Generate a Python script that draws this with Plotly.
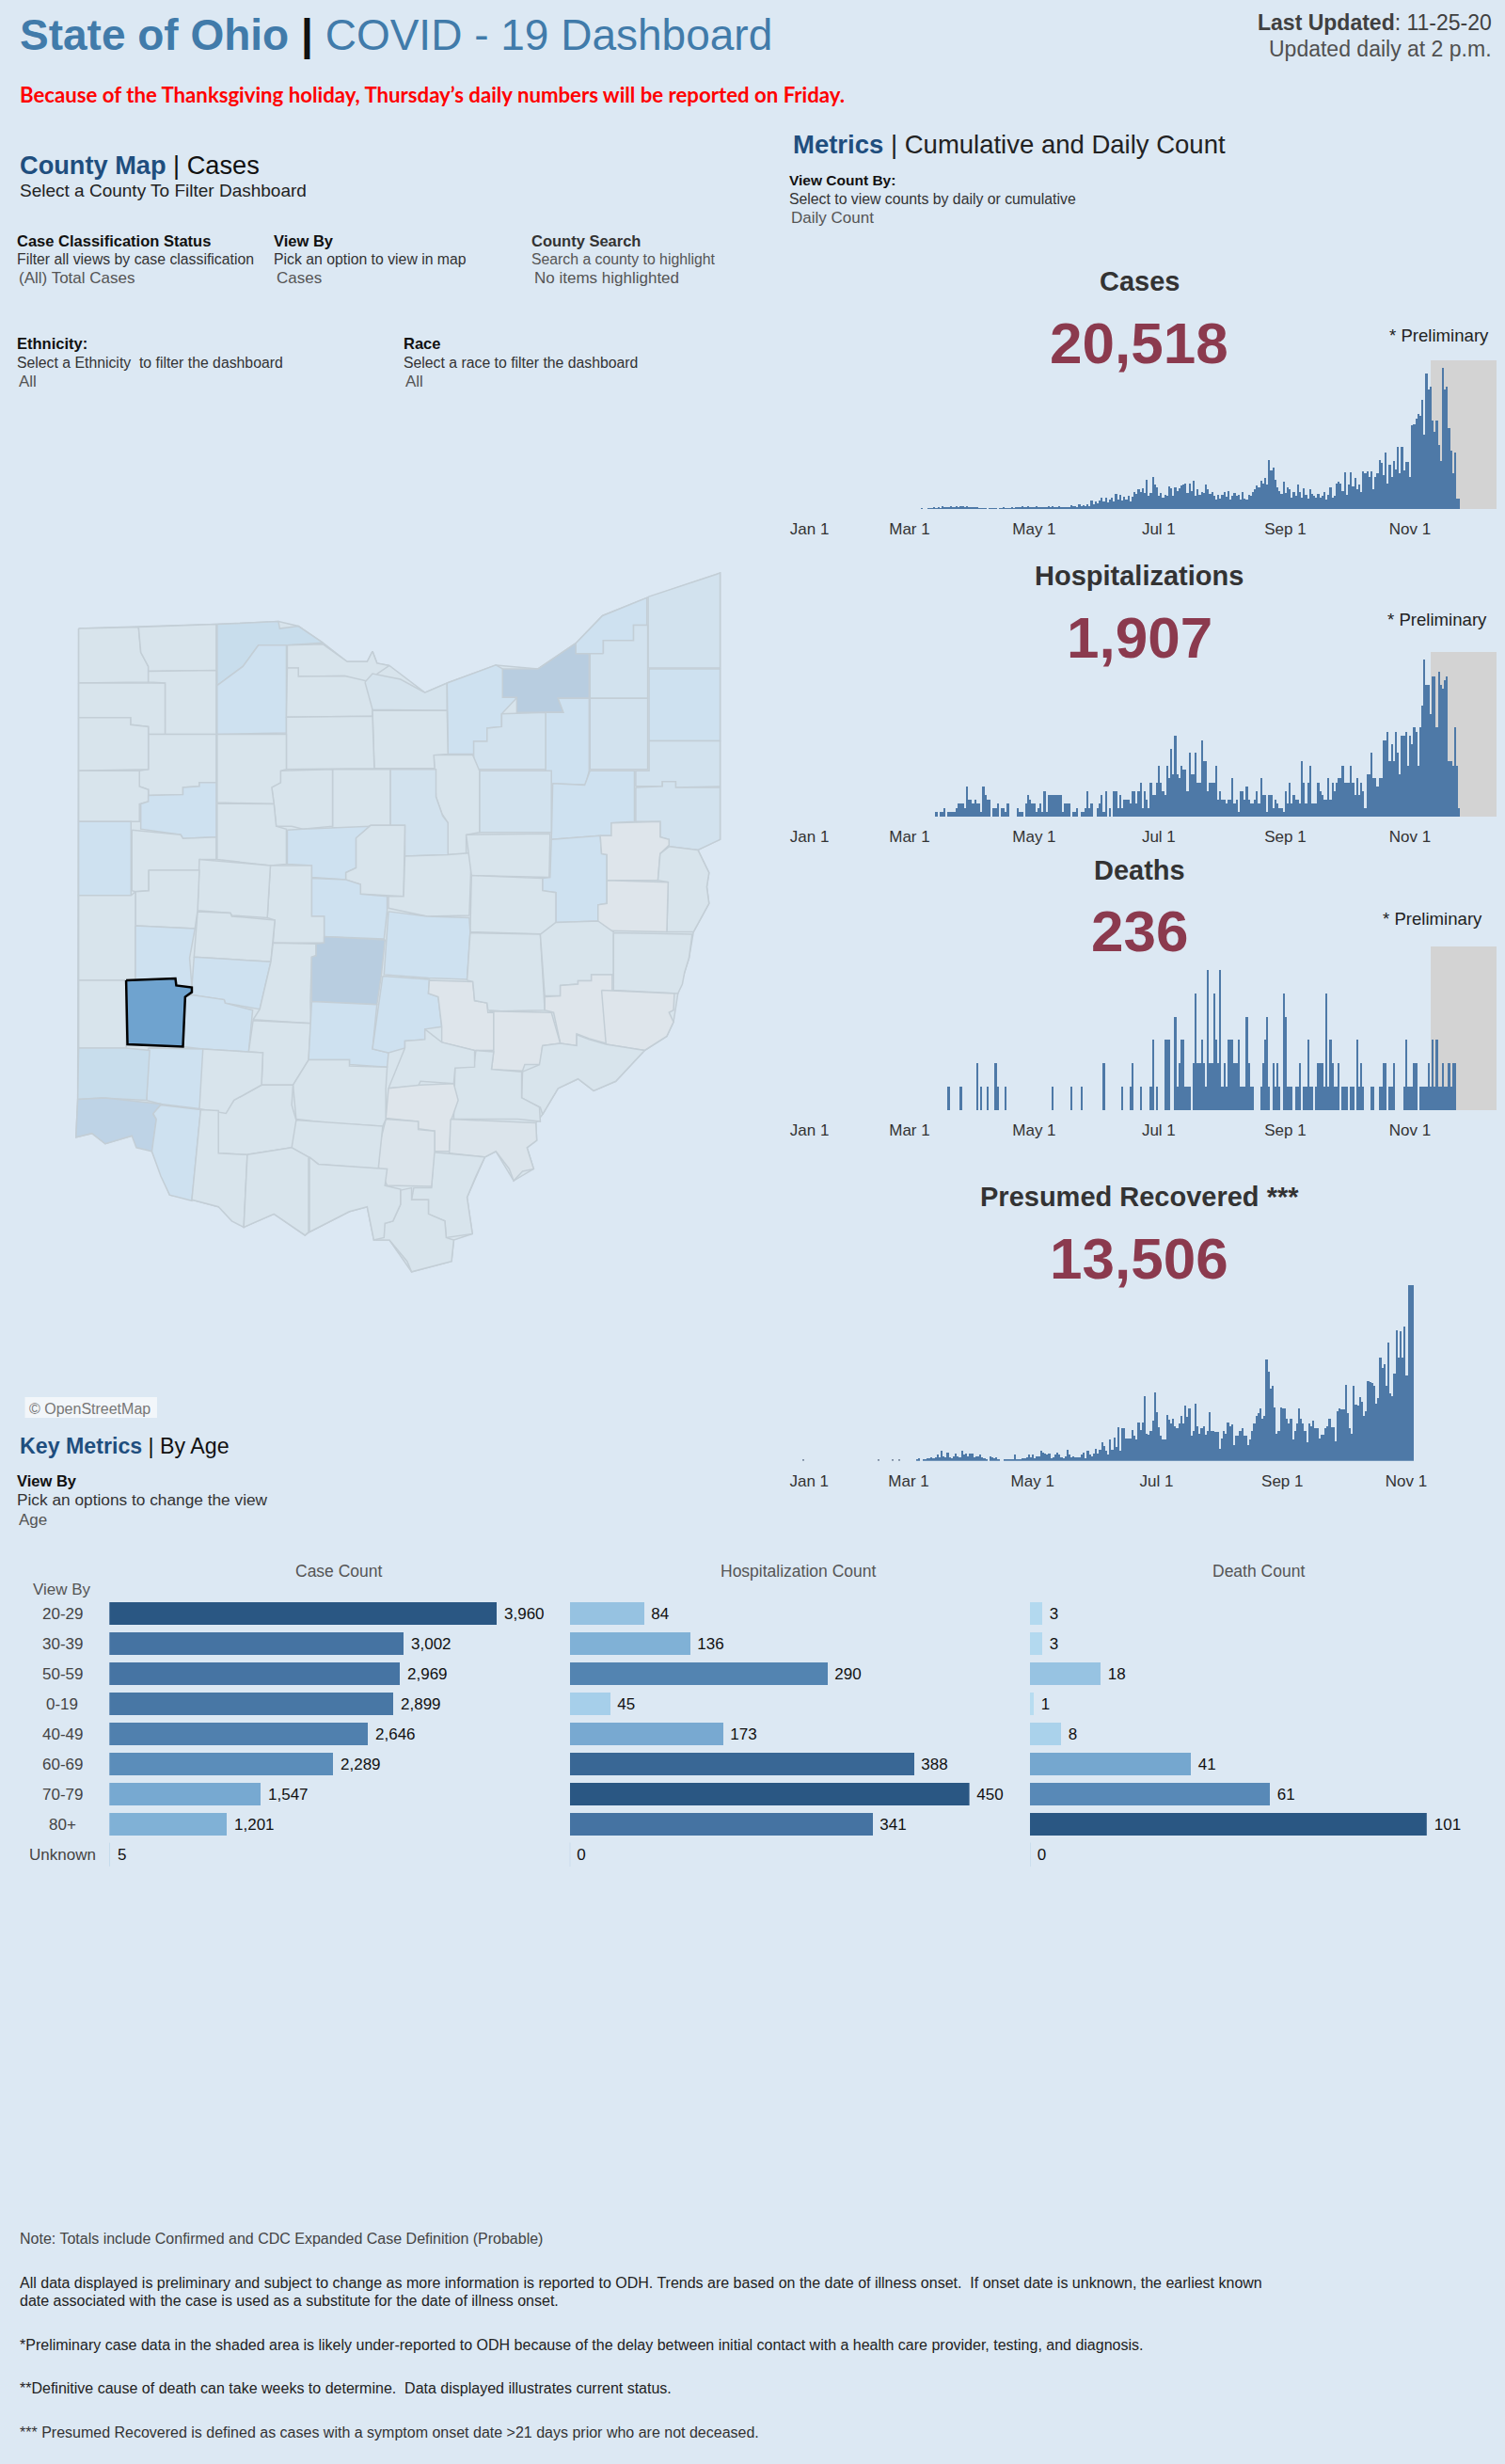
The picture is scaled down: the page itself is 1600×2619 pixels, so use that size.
import pandas as pd
import plotly.graph_objects as go

W, H = 1600, 2619
BG = "#DCE8F3"
FONT = "Liberation Sans, Arial, sans-serif"

# daily series (first date + one value per day)
cases_start = "2020-03-07"
cases_daily = [
    1,0,0,1,1,1,2,1,2,1, 4,3,3,3,4,3,3,4,3,4, 5,3,5,3,2,2,3,2,1,1, 1,1,0,1,1,1,1,0,1,1,
    2,1,1,1,2,1,3,3,2,4, 3,2,5,3,3,2,5,2,3,2, 3,3,4,3,5,3,2,5,2,3, 2,3,2,6,4,4,3,7,5,6,
    4,8,5,13,7,12,9,13,18,11, 17,10,14,18,12,24,14,22,13,19, 15,21,12,19,27,24,30,26,32,25,
    46,21,25,50,38,33,20,25,17,22, 20,35,32,20,33,28,32,36,38,40, 25,40,28,44,20,30,22,27,25,38,
    30,24,27,20,14,22,16,22,26,19, 28,15,20,25,20,22,14,26,16,14, 22,20,27,30,37,34,44,40,48,38,
    76,60,64,45,34,28,23,42,25,33, 30,18,26,20,38,26,17,32,22,16, 31,24,20,18,23,18,20,26,15,22,
    34,18,20,40,42,40,28,57,22,38, 57,35,48,30,38,26,58,56,58,50, 58,30,50,55,76,72,52,87,40,68,
    50,75,62,97,55,96,60,73,73,50, 130,131,140,147,145,169,115,210,185,190,
    137,120,137,100,75,220,185,190,126,90, 56,88,16,16,
]

hosp_start = "2020-03-14"
hosp_daily = [
    1,0,1,1,2,0,1,1,1,1, 2,3,3,3,2,7,4,4,3,4, 3,3,1,7,5,4,4,0,2,2, 3,0,2,2,1,3,0,0,0,0,
    2,1,1,0,3,5,4,3,3,1, 2,3,1,6,1,5,5,5,5,5, 5,5,1,3,3,3,0,1,1,2, 0,1,1,2,6,2,3,0,0,2,
    3,5,1,6,0,2,0,6,6,2, 5,2,4,4,4,3,6,6,3,6, 8,2,6,4,2,8,5,5,8,12, 8,6,5,12,9,16,10,19,10,9,
    12,11,11,6,15,10,10,15,8,8, 18,13,13,6,8,8,8,12,4,6, 4,4,3,4,4,9,3,4,1,6, 6,4,7,4,3,3,4,6,3,9,
    5,5,1,5,5,2,4,3,2,2, 1,6,3,8,3,5,4,4,3,13, 8,3,8,12,3,3,3,8,6,5, 4,4,9,4,8,6,8,9,9,12,
    8,8,8,12,8,5,9,5,8,6, 2,10,10,15,9,9,7,9,9,18, 18,20,13,17,13,20,15,10,19,19,
    20,12,19,17,21,20,12,21,26,37, 31,31,24,33,33,21,34,31,30,32, 33,13,13,12,21,12,2,
]

deaths_start = "2020-03-20"
deaths_daily = [
    1,0,0,0,0,0,1,0,0,0, 0,0,0,0,2,0,1,0,0,1, 0,0,0,2,1,0,0,0,1,0, 0,0,0,0,0,0,0,0,0,0,
    0,0,0,0,0,0,0,0,0,0, 0,1,0,0,0,0,0,0,0,0, 1,0,0,0,0,1,0,0,0,0, 0,0,0,0,0,0,2,0,0,0,
    0,0,0,0,0,1,0,0,0,1, 2,0,0,0,1,0,0,0,0,1, 3,0,1,0,0,0,3,3,3,0, 0,4,1,2,3,3,1,1,1,0,
    2,5,2,2,3,2,1,6,2,2, 5,3,2,6,1,2,1,3,3,3, 2,2,3,1,1,1,4,2,1,1, 0,0,0,1,2,3,4,1,0,2,
    1,2,1,0,5,4,1,1,1,0, 1,1,2,0,1,1,3,1,1,0, 1,2,2,2,1,5,1,3,2,1, 1,2,0,1,1,1,0,1,1,0,
    3,1,2,1,0,0,0,1,1,0, 0,1,1,2,2,0,1,1,2,0, 0,0,0,1,3,1,1,1,2,2, 0,1,1,1,1,2,1,3,1,3,
    1,1,2,1,1,2,1,2,2,
]

recovered_early_dates = ["2020-01-09", "2020-02-15", "2020-02-22", "2020-02-25"]
recovered_early = [1, 1, 1, 1]
recovered_start = "2020-03-05"
recovered_daily = [
    1,2,0,1,1,2,2,3,2,3, 5,3,8,4,3,7,3,2,4,6, 4,3,8,5,6,4,6,6,3,4, 4,5,3,2,1,0,4,3,2,3,
    1,0,0,1,1,1,1,1,5,1, 1,1,2,2,3,5,3,5,2,4, 4,8,7,6,5,6,2,3,5,7, 5,3,2,4,9,5,3,4,3,3,
    3,5,7,2,8,5,4,6,10,6, 9,15,12,8,5,17,9,19,11,27, 8,26,26,18,18,18,25,20,17,31,
    25,31,52,22,21,24,32,55,39,27, 20,17,17,37,33,30,34,28,26,30, 36,30,44,35,42,20,24,46,28,22,
    26,28,21,24,39,24,24,23,23,10, 18,24,22,31,28,29,13,20,20,24, 26,20,20,13,17,24,30,36,38,42,
    34,36,81,71,58,60,43,22,24,43, 42,42,34,30,34,17,24,30,42,34, 30,24,15,30,28,32,26,26,18,21,
    21,26,28,34,27,27,16,40,42,41, 41,61,38,26,22,60,45,44,51,47, 36,40,64,63,62,60,46,50,82,74,
    77,60,94,54,52,70,104,82,103,82, 107,68,140,140,140,
]

month_ticks = ["2020-01-12", "2020-03-01", "2020-05-01", "2020-07-01", "2020-09-01", "2020-11-01"]
month_labels = ["Jan 1", "Mar 1", "May 1", "Jul 1", "Sep 1", "Nov 1"]

# age table
age_groups = ["20-29", "30-39", "50-59", "0-19", "40-49", "60-69", "70-79", "80+", "Unknown"]
age_cases = [3960, 3002, 2969, 2899, 2646, 2289, 1547, 1201, 5]
age_hosp = [84, 136, 290, 45, 173, 388, 450, 341, 0]
age_deaths = [3, 3, 18, 1, 8, 41, 61, 101, 0]

# outer state line and county outlines, in map units (0-1568 both ways, y down)
state_outline = [(50,155),(360,146),(500,140),(545,150),(600,185),(655,225),(700,225),(712,203),(722,228),(750,233),
                 (830,290),(880,270),(990,232),(1085,240),(1170,186),(1230,128),(1330,90),(1495,38),(1495,600),
                 (1445,622),(1470,670),(1465,700),(1470,735),(1435,795),(1425,850),(1400,925),(1390,985),(1375,1015),
                 (1325,1045),(1260,1110),(1210,1130),(1175,1105),(1130,1125),(1095,1180),(1080,1198),(1082,1235),
                 (1060,1250),(1075,1295),(1030,1320),(990,1258),(965,1270),(925,1355),(937,1432),(895,1445),(890,1490),
                 (800,1512),(750,1445),(715,1445),(700,1375),(660,1385),(570,1428),(560,1435),(490,1390),(422,1418),
                 (365,1375),(305,1360),(255,1350),(215,1258),(170,1225),(110,1242),(80,1220),(44,1228),(48,1148)]

county_outlines = {
    "Williams": [(50,155),(185,152),(190,205),(207,235),(207,268),(50,270)],
    "Fulton": [(185,152),(360,146),(360,243),(207,245),(207,235),(190,205)],
    "Lucas": [(362,146),(500,140),(503,155),(545,150),(600,185),(520,190),(455,190),(420,235),(362,275)],
    "Defiance": [(50,270),(245,270),(245,378),(207,378),(207,362),(167,358),(167,343),(50,343)],
    "Henry": [(207,245),(360,243),(360,378),(245,378),(245,270),(207,268)],
    "Wood": [(362,275),(420,235),(455,190),(518,190),(518,375),(362,378)],
    "Ottawa": [(520,190),(600,188),(655,225),(700,225),(712,203),(722,228),(750,233),(695,268),(650,255),(545,256),(545,238),(520,238)],
    "Sandusky": [(520,238),(545,238),(545,256),(650,255),(710,268),(712,340),(518,342)],
    "Erie": [(695,268),(712,250),(775,262),(830,290),(880,270),(880,328),(712,326)],
    "Lorain": [(880,270),(990,232),(1005,240),(1035,303),(1003,335),(1003,362),(970,365),(970,393),(940,393),(940,420),(882,420)],
    "Cuyahoga": [(1005,240),(1085,240),(1170,186),(1200,210),(1200,302),(1130,302),(1142,332),(1037,332),(1037,300),(1005,300)],
    "Lake": [(1170,186),(1230,128),(1330,90),(1330,148),(1300,148),(1300,180),(1232,180),(1232,208),(1170,208)],
    "Ashtabula": [(1333,88),(1495,38),(1495,238),(1333,238)],
    "Geauga": [(1232,208),(1232,180),(1300,180),(1300,148),(1332,148),(1332,302),(1202,302),(1202,208)],
    "Trumbull": [(1335,240),(1495,240),(1495,392),(1335,392)],
    "Portage": [(1202,302),(1332,302),(1332,452),(1202,452)],
    "Summit": [(1102,332),(1142,332),(1130,302),(1200,302),(1200,455),(1192,485),(1102,482)],
    "Medina": [(940,420),(940,393),(970,393),(970,365),(1003,362),(1003,335),(1102,332),(1102,452),(940,452)],
    "Mahoning": [(1335,392),(1495,392),(1495,488),(1395,490),(1395,478),(1365,478),(1365,488),(1305,488),(1305,455),(1335,455)],
    "Stark": [(1118,482),(1190,485),(1202,455),(1302,455),(1302,562),(1250,565),(1250,592),(1225,592),(1115,600)],
    "Columbiana": [(1305,490),(1365,488),(1365,478),(1395,478),(1395,490),(1495,490),(1495,600),(1445,622),(1380,615),(1380,600),(1360,595),(1360,562),(1305,562)],
    "Wayne": [(953,455),(1115,455),(1115,585),(953,585)],
    "Ashland": [(850,422),(938,422),(953,455),(953,585),(923,590),(923,630),(882,632),(882,565),(868,545),(855,510)],
    "Huron": [(712,328),(880,328),(882,420),(850,422),(852,450),(716,450)],
    "Seneca": [(518,342),(712,340),(716,450),(505,452),(518,450)],
    "Richland": [(752,452),(855,452),(855,510),(870,550),(882,565),(882,632),(785,635),(785,570),(752,570)],
    "Crawford": [(622,452),(752,452),(752,570),(708,570),(700,575),(622,575)],
    "Wyandot": [(505,455),(622,452),(622,572),(555,578),(530,572),(495,572),(490,525),(485,490),(505,480)],
    "Hancock": [(362,378),(518,378),(518,452),(505,455),(505,480),(485,490),(490,525),(362,522)],
    "Putnam": [(207,378),(360,378),(360,480),(322,480),(322,488),(285,490),(285,505),(207,507),(207,495),(187,488),(187,455),(207,452)],
    "Paulding": [(50,343),(167,343),(167,358),(207,362),(207,452),(50,455)],
    "Van Wert": [(50,455),(187,455),(187,488),(207,495),(207,520),(187,525),(187,562),(50,562)],
    "Allen": [(190,525),(207,520),(207,507),(285,505),(285,490),(322,488),(322,480),(360,480),(360,595),(285,598),(280,590),(190,578)],
    "Mercer": [(50,562),(168,562),(168,718),(50,718)],
    "Auglaize": [(170,580),(280,590),(285,598),(360,595),(360,642),(322,642),(322,665),(208,665),(208,708),(178,710),(170,708)],
    "Hardin": [(362,524),(490,525),(495,572),(518,578),(518,652),(482,655),(362,642)],
    "Marion": [(520,580),(555,578),(708,572),(675,597),(675,660),(652,670),(652,685),(575,680),(575,655),(520,652)],
    "Morrow": [(708,570),(785,570),(782,720),(685,715),(685,695),(652,685),(652,670),(675,660),(675,597)],
    "Knox": [(785,635),(882,632),(935,628),(930,760),(835,762),(748,745),(748,720),(782,720)],
    "Holmes": [(923,590),(1112,588),(1110,680),(935,676)],
    "Tuscarawas": [(1115,600),(1225,592),(1228,630),(1240,632),(1240,735),(1220,738),(1220,772),(1125,775),(1125,712),(1095,708),(1095,682),(1112,680)],
    "Carroll": [(1225,592),(1250,592),(1250,565),(1360,562),(1360,595),(1380,600),(1380,612),(1360,630),(1355,686),(1240,686),(1240,632),(1228,630)],
    "Jefferson": [(1380,615),(1445,622),(1470,670),(1465,700),(1470,735),(1435,795),(1375,795),(1378,690),(1355,686),(1360,630)],
    "Harrison": [(1240,686),(1378,690),(1375,795),(1220,792),(1220,738),(1240,735)],
    "Coshocton": [(935,676),(1095,682),(1095,708),(1125,712),(1125,775),(1105,800),(932,795)],
    "Licking": [(748,752),(835,762),(930,765),(932,795),(925,895),(838,892),(738,885)],
    "Delaware": [(575,682),(652,685),(685,695),(685,715),(745,720),(745,750),(738,810),(603,805),(603,762),(575,762)],
    "Union": [(482,655),(575,655),(575,762),(603,762),(603,818),(488,818),(492,770),(475,765)],
    "Logan": [(322,642),(482,655),(475,765),(395,760),(392,755),(318,750)],
    "Shelby": [(208,665),(322,665),(318,750),(312,788),(178,782),(178,710),(208,708)],
    "Darke": [(50,718),(168,718),(178,710),(178,895),(157,897),(50,897)],
    "Miami": [(178,782),(312,788),(300,850),(305,910),(270,908),(268,893),(178,895)],
    "Champaign": [(318,752),(392,755),(395,762),(492,770),(487,818),(483,858),(310,848)],
    "Clark": [(310,848),(483,858),(458,958),(380,945),(378,938),(305,928),(305,912)],
    "Madison": [(488,818),(585,820),(585,845),(575,848),(572,942),(573,988),(443,980),(458,958),(483,858)],
    "Franklin": [(603,805),(740,812),(732,885),(722,948),(575,942),(575,848),(585,845),(585,820),(603,818)],
    "Preble": [(50,897),(157,897),(157,1040),(50,1040)],
    "Greene": [(290,932),(305,928),(378,938),(380,945),(442,960),(433,1048),(330,1042),(285,1037)],
    "Fayette": [(443,982),(573,988),(568,1065),(533,1118),(462,1118),(465,1050),(433,1048)],
    "Pickaway": [(575,942),(722,948),(712,1042),(748,1050),(745,1080),(660,1075),(660,1065),(568,1065)],
    "Fairfield": [(735,888),(840,895),(838,925),(860,932),(868,995),(830,1000),(830,1022),(785,1025),(785,1040),(748,1050),(712,1042)],
    "Perry": [(840,897),(938,900),(942,940),(970,945),(972,965),(985,965),(985,1045),(942,1045),(868,1028),(868,995),(860,932),(838,925)],
    "Muskingum": [(925,897),(932,797),(1090,800),(1100,960),(1002,962),(972,960),(970,945),(942,940),(938,900)],
    "Guernsey": [(1125,775),(1220,772),(1255,795),(1255,885),(1205,885),(1205,898),(1175,898),(1175,905),(1135,908),(1135,930),(1100,930),(1090,800)],
    "Belmont": [(1255,797),(1432,800),(1425,850),(1415,880),(1410,905),(1400,925),(1255,918)],
    "Noble": [(1100,932),(1135,930),(1135,908),(1175,905),(1175,898),(1205,898),(1205,885),(1252,885),(1252,1030),(1238,1030),(1200,1020),(1172,1010),(1172,1035),(1135,1030),(1120,965),(1100,960)],
    "Monroe": [(1228,918),(1392,925),(1390,960),(1380,965),(1390,985),(1375,1015),(1325,1045),(1238,1032)],
    "Morgan": [(975,962),(1115,965),(1135,1030),(1095,1035),(1090,1075),(1055,1075),(1050,1088),(980,1085),(985,1045),(985,965)],
    "Washington": [(1095,1035),(1135,1030),(1172,1035),(1172,1012),(1200,1022),(1238,1032),(1325,1045),(1290,1080),(1260,1110),(1210,1130),(1175,1105),(1130,1125),(1095,1180),(1090,1165),(1048,1145),(1050,1090),(1088,1075)],
    "Athens": [(945,1045),(985,1048),(980,1085),(1048,1090),(1048,1145),(1088,1165),(1090,1195),(1040,1190),(895,1190),(898,1080),(940,1080)],
    "Hocking": [(785,1040),(785,1025),(830,1022),(830,1000),(868,1028),(942,1045),(942,1080),(898,1082),(895,1115),(820,1110),(815,1120),(748,1125)],
    "Vinton": [(748,1125),(820,1118),(895,1115),(905,1150),(890,1190),(885,1258),(852,1258),(852,1215),(815,1210),(815,1195),(742,1188)],
    "Meigs": [(888,1190),(1080,1198),(1082,1235),(1060,1250),(1075,1295),(1050,1300),(1030,1320),(1020,1295),(990,1258),(965,1270),(885,1262)],
    "Gallia": [(850,1260),(965,1270),(945,1310),(925,1355),(937,1432),(878,1440),(875,1405),(838,1390),(838,1360),(800,1360),(805,1335),(845,1335)],
    "Jackson": [(742,1190),(815,1195),(815,1212),(852,1215),(852,1258),(845,1332),(745,1330),(725,1290),(730,1235)],
    "Lawrence": [(775,1340),(800,1335),(800,1360),(838,1360),(838,1390),(875,1405),(878,1440),(895,1445),(890,1490),(800,1512),(790,1490),(750,1445),(722,1445),(740,1410),(758,1405),(775,1370)],
    "Ross": [(568,1065),(660,1065),(660,1078),(745,1080),(742,1125),(742,1190),(735,1205),(610,1198),(540,1190),(533,1118)],
    "Pike": [(540,1192),(735,1205),(725,1295),(590,1285),(568,1270),(530,1250),(530,1215)],
    "Highland": [(462,1118),(533,1118),(530,1160),(540,1192),(530,1250),(430,1265),(365,1262),(365,1170),(385,1170),(400,1150)],
    "Clinton": [(330,1042),(433,1048),(465,1050),(462,1118),(400,1150),(382,1178),(320,1168),(322,1042)],
    "Warren": [(207,1040),(330,1042),(322,1168),(235,1158),(203,1150)],
    "Butler": [(50,1040),(157,1040),(210,1045),(203,1150),(100,1145),(48,1148)],
    "Hamilton": [(48,1148),(110,1145),(235,1158),(218,1180),(225,1190),(215,1258),(180,1250),(170,1225),(110,1242),(80,1220),(44,1228)],
    "Clermont": [(235,1160),(325,1170),(305,1362),(255,1350),(235,1310),(215,1258),(225,1190),(218,1178)],
    "Brown": [(325,1170),(365,1172),(365,1262),(430,1265),(422,1418),(395,1405),(365,1375),(305,1360)],
    "Adams": [(430,1265),(530,1250),(568,1270),(568,1428),(560,1435),(530,1415),(490,1390),(422,1418)],
    "Scioto": [(570,1270),(590,1285),(745,1295),(740,1330),(775,1338),(775,1370),(758,1405),(740,1410),(738,1440),(715,1445),(700,1375),(660,1385),(570,1428)],
    "Montgomery": [(157,897),(268,893),(270,908),(305,912),(305,922),(290,932),(285,1037),(160,1032)],
}

# shade level per county, everything not listed is level 1
county_level = {
    "Montgomery": 5, "Franklin": 4, "Cuyahoga": 4, "Hamilton": 3.6, "Lucas": 3, "Butler": 3,
    "Wood": 2.5, "Lorain": 2.5, "Summit": 2.5, "Stark": 2.5, "Medina": 2, "Portage": 2, "Lake": 2.5,
    "Trumbull": 2.5, "Mahoning": 2, "Delaware": 2.5, "Licking": 2.5, "Miami": 2.5, "Clark": 2.5,
    "Greene": 2.5, "Warren": 2.5, "Clermont": 2.5, "Fairfield": 2.5, "Pickaway": 2.5, "Mercer": 2.5,
    "Tuscarawas": 2.5, "Marion": 2.5, "Allen": 2.5, "Geauga": 2, "Wayne": 2, "Erie": 1.5, "Ashtabula": 2,
    "Columbiana": 2, "Richland": 2,
    "Carroll": 0, "Harrison": 0, "Morgan": 0, "Noble": 0, "Monroe": 0, "Perry": 0, "Vinton": 0,
    "Jackson": 0.5, "Meigs": 0.5,
}
level_colors = {0: "#DEE5EB", 0.5: "#DBE4EB", 1: "#D8E4EC", 1.5: "#D5E3ED", 2: "#D2E2EE", 2.5: "#CEE1F0",
                3: "#C8DDEC", 3.6: "#BED3E6", 4: "#B8CDE0", 5: "#6FA3CF"}

bar_scale = [[0, "#B9DDF1"], [0.1, "#A6CFEA"], [0.3, "#80B1D6"], [0.4, "#76A8D0"],
             [0.58, "#5B8DBA"], [0.75, "#4674A3"], [1, "#2A5783"]]


def fx(p):
    return p / W


def fy(p):
    return 1 - p / H


fig = go.Figure()
notes = []


def note(x, y, text, size, color="#333333", anchor="left"):
    # plotly pads annotation boxes by about 2px, take that back at the anchored edge
    nudge = {"left": -2, "right": 2, "center": 0}[anchor]
    notes.append(dict(xref="paper", yref="paper", x=fx(x + nudge), y=fy(y), text=text, showarrow=False,
                      xanchor=anchor, yanchor="middle", align=anchor,
                      font=dict(family=FONT, size=size, color=color)))


axes = {}
shapes = []


def daily_chart(n, start, values, left, right, top, base, xmax, ymax, shaded=True):
    fig.add_trace(go.Bar(x=pd.date_range(start, periods=len(values)), y=values, width=86400000,
                         marker=dict(color="#4E79A7", line=dict(width=0)),
                         xaxis=f"x{n}", yaxis=f"y{n}", showlegend=False))
    axes[f"xaxis{n}"] = dict(domain=[fx(left), fx(right)], range=["2020-01-01", xmax], type="date",
                             anchor=f"y{n}", tickmode="array", tickvals=month_ticks, ticktext=month_labels,
                             ticks="outside", ticklen=6, tickcolor="rgba(0,0,0,0)", showgrid=False, zeroline=False,
                             showline=False, tickfont=dict(family=FONT, size=17, color="#333333"))
    axes[f"yaxis{n}"] = dict(domain=[fy(base), fy(top)], range=[0, ymax], anchor=f"x{n}", visible=False)
    if shaded:
        shapes.append(dict(type="rect", xref=f"x{n}", yref=f"y{n} domain", x0="2020-11-11 05:00", x1=xmax,
                           y0=0, y1=1, fillcolor="#D3D3D3", line_width=0, layer="below"))


daily_chart(2, cases_start, cases_daily, 836.7, 1591, 383, 541, "2020-12-13 10:00", 231)
daily_chart(3, hosp_start, hosp_daily, 836.7, 1591, 693, 868, "2020-12-13 10:00", 38.7)
daily_chart(4, deaths_start, deaths_daily, 836.7, 1591, 1006, 1180, "2020-12-13 10:00", 7.0)
daily_chart(5, recovered_start, recovered_daily, 836.5, 1504.7, 1365.7, 1552.7, "2020-11-05 12:00", 140, shaded=False)
fig.add_trace(go.Bar(x=pd.to_datetime(recovered_early_dates), y=recovered_early, width=86400000,
                     marker=dict(color="#7F8FA3", line=dict(width=0)), xaxis="x5", yaxis="y5", showlegend=False))

# county map, state shape first so small gaps between traced counties do not show the page colour
fig.add_trace(go.Scatter(x=[p[0] for p in state_outline] + [state_outline[0][0]],
                         y=[p[1] for p in state_outline] + [state_outline[0][1]],
                         mode="lines", fill="toself", fillcolor=level_colors[1], line=dict(color="#C3CED6", width=1.5),
                         xaxis="x6", yaxis="y6", showlegend=False, hoverinfo="skip"))
for name, outline in county_outlines.items():
    level = county_level.get(name, 1)
    selected = name == "Montgomery"
    fig.add_trace(go.Scatter(x=[p[0] for p in outline] + [outline[0][0]],
                             y=[p[1] for p in outline] + [outline[0][1]],
                             mode="lines", fill="toself", fillcolor=level_colors[level], name=name,
                             line=dict(color="#000000" if selected else "#C3CED6", width=2.5 if selected else 1.5),
                             xaxis="x6", yaxis="y6", showlegend=False, hoverinfo="name"))
axes["xaxis6"] = dict(domain=[fx(60), fx(800)], range=[0, 1568], anchor="y6", visible=False)
axes["yaxis6"] = dict(domain=[fy(1380), fy(590)], range=[1568, 0], anchor="x6", visible=False)


def age_chart(n, values, left, right):
    fig.add_trace(go.Bar(x=values, y=age_groups, orientation="h", width=0.77,
                         marker=dict(color=values, colorscale=bar_scale, cmin=0, cmax=max(values), line=dict(width=0)),
                         text=[f"\u00a0{v:,}" for v in values], textposition="outside", cliponaxis=False,
                         constraintext="none", textfont=dict(family=FONT, size=17, color="#111111"),
                         xaxis=f"x{n}", yaxis=f"y{n}", showlegend=False))
    axes[f"xaxis{n}"] = dict(domain=[fx(left), fx(right)], range=[0, max(values)], anchor=f"y{n}", visible=False)
    axes[f"yaxis{n}"] = dict(domain=[fy(1987.3), fy(1699.3)], type="category", categoryorder="array",
                             categoryarray=age_groups, range=[8.5, -0.5], anchor=f"x{n}", visible=False)
    # faint stub of the empty Unknown row
    shapes.append(dict(type="line", xref=f"x{n}", yref=f"y{n}", x0=0, x1=0, y0=7.6, y1=8.4,
                       line=dict(color="#C6DBEC", width=1.5)))


age_chart(7, age_cases, 116.3, 528.6)
age_chart(8, age_hosp, 605.6, 1030.6)
age_chart(9, age_deaths, 1095, 1516.8)

for label in age_groups:
    notes.append(dict(xref="paper", yref="y7", x=fx(66), y=label, text=label, showarrow=False, xanchor="center",
                      yanchor="middle", font=dict(family=FONT, size=17, color="#444444")))

BLUE = "#417BAA"
NAVY = "#1F4E7E"
note(21, 37, "<b>State of Ohio</b> <span style='color:#111111'><b>|</b></span> COVID - 19 Dashboard", 46, BLUE)
note(21, 100, "<b>Because of the Thanksgiving holiday, Thursday’s daily numbers will be reported on Friday.</b>", 22.2, "#FF0000")
notes[-1]["font"]["family"] = "Lato, sans-serif"
note(1586, 24, "<b>Last Updated</b>: 11-25-20", 23, "#404040", "right")
note(1586, 52, "Updated daily at 2 p.m.", 23, "#505050", "right")

note(21, 175, f"<b><span style='color:{NAVY}'>County Map</span></b> | Cases", 27.2, "#111111")
note(21, 202, "Select a County To Filter Dashboard", 19, "#222222")
note(18, 256, "<b>Case Classification Status</b>", 16.5, "#111111")
note(18, 276, "Filter all views by case classification", 15.8, "#333333")
note(20, 296, "(All) Total Cases", 17, "#555555")
note(291, 256, "<b>View By</b>", 16.5, "#111111")
note(291, 276, "Pick an option to view in map", 15.8, "#333333")
note(294, 296, "Cases", 17, "#555555")
note(565, 256, "<b>County Search</b>", 16.5, "#333333")
note(565, 276, "Search a county to highlight", 15.8, "#555555")
note(568, 296, "No items highlighted", 17, "#555555")
note(18, 365, "<b>Ethnicity:</b>", 16.5, "#111111")
note(18, 385, "Select a Ethnicity  to filter the dashboard", 15.8, "#333333")
note(20, 405, "All", 17, "#555555")
note(428.6, 365, "<b>Race</b>", 16.5, "#111111")
note(428.6, 385, "Select a race to filter the dashboard", 15.8, "#333333")
note(431, 405, "All", 17, "#555555")

note(843, 153.5, f"<b><span style='color:{NAVY}'>Metrics</span></b> | Cumulative and Daily Count", 27.5, "#222222")
note(839, 192, "<b>View Count By:</b>", 15.5, "#111111")
note(839, 212, "Select to view counts by daily or cumulative", 15.8, "#333333")
note(841, 232, "Daily Count", 17, "#555555")

for title, number, title_y, number_y in [("Cases", "20,518", 299, 364), ("Hospitalizations", "1,907", 612, 677),
                                         ("Deaths", "236", 925, 989), ("Presumed Recovered ***", "13,506", 1272, 1337)]:
    note(1211, title_y, f"<b>{title}</b>", 29, "#333333", "center")
    note(1211, number_y, f"<b>{number}</b>", 62, "#8B3A4E", "center")
note(1583, 356, "* Preliminary", 18.6, "#222222", "right")
note(1581, 659, "* Preliminary", 18.6, "#222222", "right")
note(1576, 976, "* Preliminary", 18.6, "#222222", "right")

note(31, 1497, "© OpenStreetMap", 16, "#777777")
shapes.append(dict(type="rect", xref="paper", yref="paper", x0=fx(26.5), x1=fx(167), y0=fy(1507), y1=fy(1485),
                   fillcolor="#F2F6FA", line_width=0, layer="below"))

note(21, 1537, f"<b><span style='color:{NAVY}'>Key Metrics</span></b> | By Age", 23.2, "#111111")
note(18, 1574, "<b>View By</b>", 16.5, "#111111")
note(18, 1594, "Pick an options to change the view", 17.3, "#333333")
note(20, 1615, "Age", 17, "#555555")
note(360, 1670, "Case Count", 17.5, "#555555", "center")
note(849, 1670, "Hospitalization Count", 17.5, "#555555", "center")
note(1338, 1670, "Death Count", 17.5, "#555555", "center")
note(66, 1689, "View By", 17, "#555555", "center")

note(21, 2379, "Note: Totals include Confirmed and CDC Expanded Case Definition (Probable)", 16, "#444444")
note(21, 2426, "All data displayed is preliminary and subject to change as more information is reported to ODH. "
               "Trends are based on the date of illness onset.  If onset date is unknown, the earliest known", 16, "#222222")
note(21, 2445, "date associated with the case is used as a substitute for the date of illness onset.", 16, "#222222")
note(21, 2492, "*Preliminary case data in the shaded area is likely under-reported to ODH because of the delay "
               "between initial contact with a health care provider, testing, and diagnosis.", 16, "#222222")
note(21, 2538, "**Definitive cause of death can take weeks to determine.  Data displayed illustrates current status.",
     16, "#222222")
note(21, 2585, "*** Presumed Recovered is defined as cases with a symptom onset date >21 days prior who are not deceased.",
     16, "#333333")

# autoexpand off: the outside bar labels and edge annotations were squeezing the x scale
fig.update_layout(width=W, height=H, autosize=False, margin=dict(l=0, r=0, t=0, b=0, autoexpand=False),
                  paper_bgcolor=BG, plot_bgcolor=BG, bargap=0, barmode="overlay", showlegend=False,
                  annotations=notes, shapes=shapes, font=dict(family=FONT), **axes)

fig.write_html("out.html", config=dict(displayModeBar=False),
               post_script=f"document.body.style.margin='0';document.body.style.background='{BG}';")
